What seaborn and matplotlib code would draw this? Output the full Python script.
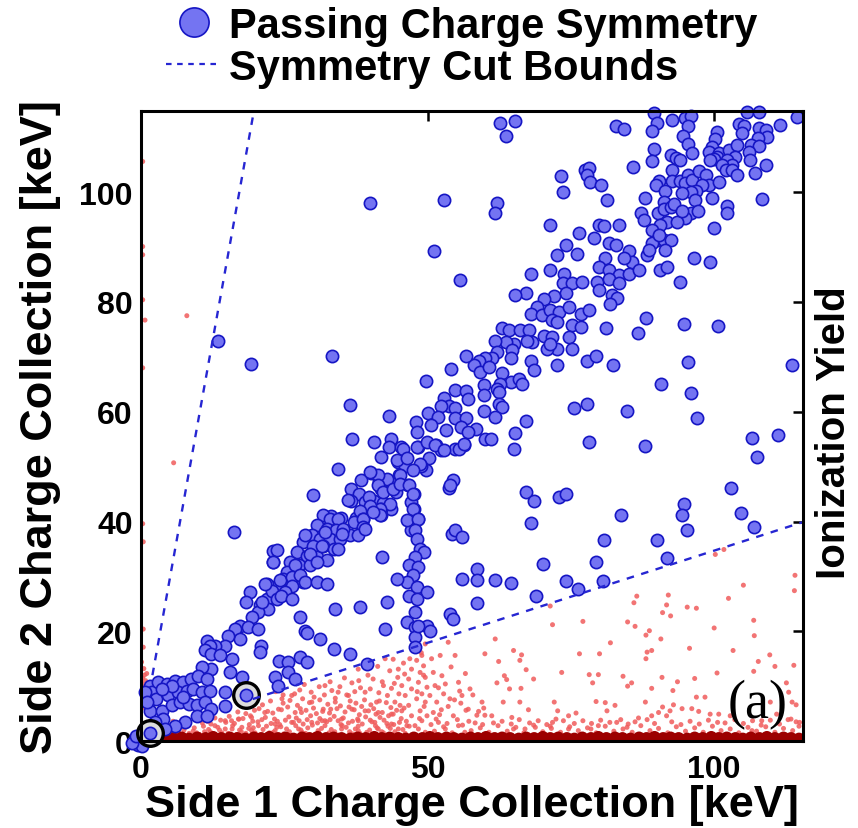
import matplotlib
matplotlib.use("Agg")
import matplotlib.pyplot as plt
import seaborn as sns
import pandas as pd
from matplotlib.lines import Line2D

# ---------------- data (keV) ----------------
# events passing the charge-symmetry cut (Side 1, Side 2)
passing_top = [
    (62.7,112.7),(65.2,112.9),(63.6,110.3),(82.9,112.0),(84.2,111.5),(89.5,114.4),(90.1,112.7),(89.2,111.1),
    (92.6,113.1),(95.0,113.5),(96.0,113.8),(95.5,112.1),(94.6,110.3),(95.5,108.8),(96.2,107.1),(89.5,107.8),
    (89.1,105.6),(85.8,104.6),(92.4,106.8),(93.3,106.2),(94.1,105.8),(100.5,110.9),(100.1,109.7),(99.7,108.2),
    (99.1,107.4),(100.8,107.1),(100.5,106.5),(100.0,106.0),(99.2,105.8),(102.6,107.7),(104.0,108.6),(103.7,106.5),
    (102.3,105.8),(103.1,105.0),(101.3,105.0),(102.0,104.1),(103.1,104.1),(104.0,103.2),(105.8,114.6),(107.8,114.7),
    (104.3,112.5),(105.2,112.0),(104.8,110.8),(107.9,111.7),(109.0,111.4),(109.3,110.0),(107.7,109.9),(106.5,108.6),
    (107.9,108.5),(106.1,107.4),(106.2,105.8),(107.2,103.5),(109.0,105.0),(108.4,98.7),(111.4,112.2),(114.5,113.7),
    (40.0,98.1),(52.8,98.5),(51.1,89.3),(55.6,84.0),
]
passing_upper_band = [
    (92.7,104.1),(92.7,102.1),(90.3,102.1),(89.8,101.3),(91.5,100.3),(91.2,98.3),(90.2,96.2),(91.2,96.9),
    (92.4,97.3),(93.0,97.9),(91.8,94.6),(90.6,94.0),(89.2,93.1),(90.1,91.3),(91.2,91.3),(92.4,91.3),
    (91.5,89.5),(89.2,90.8),(90.3,92.2),(94.1,102.1),(95.5,103.2),(95.0,101.6),(96.2,102.2),(97.3,103.8),
    (98.5,103.2),(99.1,101.3),(97.9,101.3),(96.9,100.3),(95.9,100.1),(94.4,99.8),(96.6,98.5),(99.7,98.9),
    (100.9,101.9),(95.9,96.3),(97.2,96.5),(95.0,95.3),(93.5,94.6),(94.4,96.5),(88.0,98.9),(87.2,96.2),
    (87.7,94.9),(88.3,88.6),(88.6,89.5),(90.6,85.8),(91.8,86.3),(94.1,83.7),(96.5,88.1),(99.2,87.2),
    (99.9,93.4),(102.3,97.4),(102.3,96.2),(62.1,98.1),(61.8,96.3),(73.2,103.0),(73.6,100.1),(77.5,104.1),
    (78.2,104.4),(77.8,103.2),(78.4,101.8),(80.3,101.3),(81.3,98.6),(71.4,94.0),(76.4,92.6),(79.9,94.0),
    (80.8,93.9),(83.4,94.0),(79.0,91.6),(81.7,90.7),(82.8,90.4),(85.1,89.2),(85.7,87.3),(84.2,88.1),
    (81.0,88.1),(79.9,86.3),(81.6,85.8),(83.4,84.9),(85.1,85.1),(86.9,85.8),(79.6,83.7),(81.6,84.1),
    (83.4,83.4),(79.9,82.2),(82.2,81.3),(83.1,80.8),(81.9,79.7),(74.1,90.4),(72.6,88.6),(76.1,88.7),
    (71.4,85.8),(68.0,85.1),(73.8,85.1),(73.6,83.4),(75.2,83.4),(77.0,83.7),(74.1,81.6),(72.0,81.0),
    (70.3,80.6),(67.1,81.7),(65.3,81.3),(69.1,79.1),(68.1,77.9),(69.9,77.6),(71.4,78.5),(72.9,78.2),
    (74.6,79.0),(76.7,77.9),(78.1,78.6),(71.7,76.7),
]
passing_mid = [
    (63.0,75.3),(64.2,74.9),(66.2,74.9),(67.7,74.9),(70.3,73.8),(71.7,73.7),(72.6,76.4),(75.2,75.8),
    (76.7,75.5),(74.6,73.7),(75.2,71.4),(72.6,71.5),(70.9,71.5),(71.3,72.4),(68.2,72.7),(67.4,72.9),
    (65.0,72.3),(63.6,72.7),(61.8,72.9),(62.1,70.9),(64.7,71.2),(64.5,69.8),(61.3,69.8),(60.1,69.8),
    (58.9,69.2),(58.1,68.6),(59.2,67.3),(60.7,68.2),(62.9,67.0),(64.5,65.4),(65.9,65.9),(66.4,65.1),
    (62.7,65.1),(59.8,64.8),(59.8,63.0),(62.1,64.2),(62.4,63.6),(62.4,61.5),(63.0,60.9),(59.8,60.1),
    (61.8,59.1),(58.4,56.9),(60.1,55.1),(61.1,55.1),(65.3,56.2),(65.0,53.2),(67.1,58.4),(68.1,69.2),
    (68.5,67.6),(72.6,68.6),(77.8,69.2),(79.3,70.2),(81.2,75.3),(82.3,68.5),(86.7,74.3),(88.1,77.0),
    (94.7,75.9),(100.7,75.7),(95.5,69.0),(113.5,68.6),(90.8,65.0),(95.9,63.5),(75.5,60.7),(77.8,61.5),
    (84.8,60.1),(97.0,58.9),(78.2,54.4),(88.0,53.7),(106.6,55.2),(111.2,55.8),(107.5,51.8),(102.9,46.1),
    (67.1,45.4),(68.5,43.8),(73.0,44.5),(74.2,45.1),(68.1,39.8),(83.7,41.1),(94.7,43.2),(94.4,41.1),
    (104.6,41.5),(95.3,38.4),(106.9,39.0),
]
passing_low_right = [
    (58.6,31.4),(58.7,29.4),(58.6,25.2),(61.8,29.3),(64.5,28.8),(70.2,32.3),(69.0,26.5),(74.2,29.1),
    (76.2,27.7),(79.4,32.7),(80.7,36.7),(80.6,29.1),(90.1,36.7),(91.7,33.3),
]
passing_center = [
    (13.4,72.9),(19.2,68.7),(33.3,70.1),(36.4,61.3),(43.2,59.2),(36.8,55.1),(34.4,49.6),(30.1,44.8),
    (49.7,65.6),(54.1,67.7),(56.7,70.2),(16.3,38.0),(52.9,62.5),(54.7,63.9),(56.7,63.7),(53.8,61.1),
    (54.7,60.7),(57.0,62.4),(52.4,61.1),(50.0,59.8),(51.8,59.1),(53.2,56.6),(50.6,57.5),(48.0,58.1),
    (48.1,56.3),(54.7,58.8),(56.7,58.8),(55.8,57.2),(57.0,56.3),(51.5,54.0),(52.4,53.0),(50.3,51.6),
    (48.3,53.6),(49.7,49.3),(48.9,50.2),(54.7,53.3),(56.3,54.0),(54.4,47.5),(53.8,46.1),(40.7,54.4),
    (43.6,55.0),(43.3,53.6),(45.4,53.6),(41.9,51.8),(44.8,50.8),(46.0,50.2),(45.1,48.4),(40.1,48.9),
    (38.4,47.5),(41.6,47.3),(43.0,47.3),(44.2,46.9),(46.5,46.7),(47.7,45.1),(44.5,45.4),(41.9,46.0),
    (36.6,45.9),(38.1,45.1),(36.6,43.7),(39.0,43.5),(40.7,43.8),(42.2,43.4),(43.6,42.3),(41.9,42.2),
    (40.4,42.0),(47.1,43.5),(47.7,42.2),(48.3,40.4),(47.1,38.4),(33.2,41.0),(34.9,40.6),(31.7,38.6),
    (37.5,40.6),(38.9,38.8),(35.5,38.1),(30.3,37.8),(41.9,41.1),
]
passing_column = [
    (45.8,53.3),(48.1,53.6),(49.9,54.5),(51.3,53.9),(52.8,53.0),(55.4,53.3),(56.3,54.2),(44.6,51.2),
    (46.4,51.5),(48.7,50.5),(47.5,49.3),(45.2,48.4),(42.9,47.8),(41.4,48.4),(40.0,49.0),(36.2,43.9),
    (39.7,44.5),(41.4,46.6),(42.3,45.4),(44.0,46.0),(45.2,46.9),(46.7,46.6),(47.5,45.1),(47.5,42.3),
    (43.5,43.2),(41.7,42.3),(40.0,42.9),(38.2,42.0),(38.8,40.5),(41.7,41.1),(46.4,40.2),(48.4,40.5),
    (47.8,38.4),(48.1,36.9),(48.7,35.0),(49.3,34.4),(47.8,33.5),(46.7,32.0),(48.4,31.7),(47.5,30.2),
    (46.4,29.0),(48.1,28.0),(49.9,27.1),(46.7,26.5),(48.1,25.9),(47.8,23.5),(46.4,21.7),(47.8,20.7),
    (49.9,21.0),(50.4,20.1),(47.8,18.9),(47.8,17.1),(54.0,46.6),(54.2,37.8),(54.8,38.4),(56.0,37.2),
    (56.0,29.6),(54.0,23.2),(54.5,22.3),(42.0,33.5),(44.6,29.6),(42.9,25.3),(42.6,20.4),(38.2,24.4),
    (33.9,24.1),(36.5,15.9),(39.4,14.0),(28.6,20.0),(31.2,18.6),(27.7,22.6),(33.6,16.8),(48.3,21.0),
    (29.0,19.7),(24.0,14.6),(25.7,14.4),(27.7,15.3),(29.0,14.4),(25.7,12.6),(26.9,11.3),(23.4,11.7),
    (23.9,10.0),(21.0,17.3),(20.8,16.2),(17.6,11.7),(14.7,8.9),(14.7,6.4),
]
passing_low_band = [
    (31.8,41.1),(33.0,40.5),(34.4,40.5),(30.7,39.3),(32.4,38.7),(34.1,38.4),(29.8,37.5),(31.2,36.9),
    (33.0,36.9),(34.7,36.9),(36.5,37.5),(28.3,36.3),(30.1,35.6),(31.8,35.6),(33.6,35.0),(27.2,34.4),
    (28.9,33.8),(30.7,33.5),(32.4,32.9),(26.0,32.6),(27.5,32.0),(29.5,32.0),(25.4,30.8),(27.2,30.5),
    (24.8,29.6),(26.6,29.3),(28.3,29.0),(23.7,28.3),(22.0,28.6),(25.4,27.1),(23.7,26.5),(22.0,25.9),
    (20.8,24.7),(19.0,27.1),(18.4,25.3),(23.1,34.7),(23.1,32.6),(35.3,38.7),(37.1,39.9),(38.8,40.5),
    (38.8,39.0),(40.5,41.7),(28.6,37.5),(32.1,38.1),(35.0,37.8),(37.9,37.5),(39.1,38.7),(31.5,35.6),
    (29.5,34.1),(34.4,35.0),(30.7,32.6),(26.9,32.0),(24.3,29.3),(26.3,29.9),(27.7,30.2),(28.6,29.0),
    (30.7,29.0),(32.4,28.7),(26.3,28.3),(25.1,27.1),(22.8,27.4),(21.6,28.7),(23.7,25.9),(24.5,26.5),
    (26.3,25.9),(22.2,24.1),(20.5,23.5),(19.3,22.6),(21.1,25.3),(17.3,21.0),(16.4,20.4),(18.7,20.7),
    (20.5,20.4),(17.3,18.6),(15.2,19.2),(14.7,17.4),(12.9,17.4),(11.5,18.3),(12.0,17.4),(11.2,16.5),
    (12.3,15.9),(13.8,15.6),(15.8,15.0),(15.5,12.5),(12.3,13.1),(10.6,13.4),(23.7,34.9),(23.1,32.6),
]
passing_origin = [
    (1.6,10.1),(1.9,8.9),(3.0,10.7),(4.5,10.4),(5.9,11.0),(7.4,10.7),(8.8,11.3),(10.0,11.9),
    (11.5,11.3),(2.7,7.7),(4.8,8.3),(6.5,8.9),(8.0,9.2),(9.1,9.5),(10.6,8.9),(12.0,9.2),
    (1.6,5.5),(3.6,5.5),(5.4,6.5),(6.8,7.1),(8.3,6.8),(9.7,6.5),(11.2,7.1),(12.3,5.9),
    (9.7,4.6),(7.7,3.4),(5.9,2.8),(3.9,4.0),(2.4,3.4),(2.2,1.9),(4.2,2.2),(11.5,4.6),
    (7.4,8.0),(0.7,8.9),(1.0,7.1),(5.4,10.1),(3.6,9.5),
    (0.0,0.0),(0.4,0.3),(0.1,0.8),(0.9,0.1),(0.6,0.9),
    (-1.0,0.2),(-0.6,-0.8),(0.2,-0.9),(-1.5,-0.3),(-0.9,0.9),
]
# the two highlighted (circled) events
circled_x = [1.6, 18.3]
circled_y = [1.5, 8.3]

# events failing the symmetry cut
failing_right = [
    (100.2,34.0),(101.7,34.9),(114.1,30.2),(114.0,27.4),(105.1,28.4),(102.5,26.0),(86.5,26.4),(86.0,25.2),
    (92.0,26.6),(91.7,24.8),(91.0,23.4),(92.4,22.8),(95.3,24.4),(96.9,24.2),(71.4,24.6),(71.8,21.2),
    (77.1,21.8),(84.9,21.7),(86.2,20.9),(88.7,20.1),(88.1,19.3),(90.7,18.6),(100.0,20.6),(106.9,22.0),
    (107.0,19.2),(61.8,18.6),(81.9,17.9),(76.5,15.9),(80.0,15.9),(60.0,15.9),(65.0,16.5),(66.4,15.7),
    (66.1,14.7),(62.4,14.5),(67.2,13.0),(68.5,11.3),(63.4,11.9),(63.8,11.2),(62.1,10.6),(64.3,9.5),
    (66.3,9.6),(73.4,12.5),(78.2,12.1),(79.8,12.1),(78.8,10.6),(84.1,11.8),(85.6,10.6),(84.9,10.0),
    (89.1,9.6),(88.3,16.2),(89.1,16.5),(88.1,15.0),(90.9,11.6),(93.6,10.8),(92.8,9.2),(95.7,16.9),
    (96.6,11.4),(100.5,12.4),(103.3,16.5),(106.9,12.7),(107.7,14.5),(109.7,15.7),(110.6,13.6),(113.9,13.8),
    (112.6,10.6),(113.0,8.9),(113.6,7.1),(114.3,6.6),(114.9,3.4),(113.4,4.0),(110.9,4.9),(109.8,7.1),
    (108.3,3.7),(106.6,1.9),(102.8,4.6),(100.8,4.9),(99.3,4.9),(100.6,3.4),(98.4,8.0),(96.9,8.0),
    (97.3,5.4),(96.1,5.9),(94.4,5.9),(92.9,6.6),(92.3,5.5),(91.7,4.6),(91.0,6.2),(90.3,5.2),
    (89.1,4.6),(88.3,3.9),(88.0,7.1),(86.2,3.5),(84.8,2.5),(82.7,6.5),(81.0,7.0),(79.4,7.2),
    (81.3,5.5),(83.0,3.4),(81.8,3.4),(79.8,2.8),(78.5,2.2),(75.9,5.1),(74.6,4.6),(73.7,3.7),
    (72.7,5.5),(72.1,7.1),(71.8,3.4),(74.6,2.2),(71.4,2.7),(67.6,5.7),(66.1,7.1),(64.7,4.3),
    (63.2,7.1),(60.0,4.7),(61.2,4.6),(58.6,4.7),(59.5,7.1),(57.4,9.5),(67.0,2.2),(68.8,2.5),(65.0,2.2),
]
failing_column = [
    (53.6,18.0),(49.6,17.7),(48.4,16.5),(49.0,15.6),(48.1,14.7),(49.3,13.7),(48.7,12.5),(49.6,11.6),
    (48.4,10.7),(49.9,9.8),(49.0,8.6),(48.1,7.7),(49.6,7.1),(48.7,5.5),(49.9,4.6),(49.0,3.7),
    (47.8,2.8),(48.4,2.2),(49.6,1.6),(46.9,15.0),(47.2,13.1),(46.7,11.3),(47.2,9.5),(46.1,8.3),
    (50.7,15.0),(51.0,12.5),(51.3,10.1),(50.4,8.3),(51.6,7.1),(46.7,6.5),(51.0,5.2),(47.2,4.6),
    (51.9,3.4),(46.4,2.8),(52.5,11.9),(53.1,10.4),(45.5,10.1),(52.2,15.6),(44.9,13.1),(53.9,7.7),
    (48.9,16.1),(49.3,12.0),(48.2,9.0),(49.4,6.3),(48.6,4.1),
]
failing_left = [
    (42.6,15.0),(37.9,13.1),(42.3,10.1),(43.7,9.6),(39.1,8.9),(36.2,8.3),(41.1,7.1),(44.3,7.1),
    (32.1,10.1),(34.4,8.9),(33.9,7.1),(29.8,7.1),(31.8,5.8),(36.8,5.8),(39.1,5.5),(41.4,5.2),
    (43.7,4.9),(45.5,5.5),(26.3,8.3),(24.6,7.7),(28.0,5.2),(24.0,5.8),(21.6,5.2),(19.3,4.3),
    (17.0,4.0),(14.7,3.7),(12.9,2.8),(35.0,4.0),(37.9,3.7),(40.8,3.4),(32.1,3.7),(29.8,3.4),
    (26.3,3.4),(23.4,3.1),(20.5,2.8),(17.6,2.5),(14.7,2.2),(35.0,2.2),(37.9,1.9),(41.4,2.2),
    (43.7,3.1),(44.9,2.2),(27.5,2.2),(30.9,1.9),(23.4,1.9),(19.3,1.9),(55.4,10.7),(56.0,8.3),
    (57.1,5.8),(54.5,4.6),(55.4,2.8),(53.1,2.2),(56.5,1.6),(54.8,15.6),
]
failing_dense = [
    (4.3,1.3),(6.1,1.1),(8.4,1.4),(10.2,1.2),(12.6,1.0),(14.1,1.5),(16.7,1.2),(18.3,1.4),(20.8,1.1),
    (22.4,1.5),(24.9,1.3),(26.2,1.0),(28.7,1.4),(30.3,1.2),(32.8,1.5),(34.4,1.1),(36.9,1.3),(38.2,1.4),
    (40.6,1.0),(42.3,1.5),(44.8,1.2),(46.1,1.4),(5.2,2.3),(7.5,2.0),(9.3,2.4),(11.8,2.1),(13.4,2.5),
    (15.9,2.2),(17.2,2.0),(19.6,2.4),(21.3,2.1),(23.7,2.5),(25.4,2.2),(27.9,2.0),(29.1,2.4),(31.5,2.3),
    (33.2,2.1),(35.8,2.5),(37.4,2.2),(39.9,2.0),(41.2,2.4),(43.5,2.3),(45.7,2.1),(8.1,3.0),(10.7,3.3),
    (12.2,3.1),(14.8,3.4),(16.3,3.2),(18.9,3.0),(20.4,3.5),(22.7,3.2),(24.2,3.0),(26.6,3.4),(28.3,3.1),
    (30.8,3.3),(32.4,3.5),(34.9,3.0),(36.2,3.3),(38.6,3.1),(40.3,3.5),(42.9,3.2),(44.1,3.0),(12.9,4.2),
    (15.4,4.5),(17.8,4.1),(19.1,4.6),(21.7,4.3),(23.3,4.0),(25.8,4.4),(27.1,4.2),(29.6,4.6),(31.2,4.1),
    (33.7,4.5),(35.3,4.2),(37.8,4.0),(39.2,4.4),(41.7,4.3),(43.2,4.6),(45.4,4.1),(16.9,5.3),(19.8,5.6),
    (22.1,5.4),(24.5,5.7),(26.9,5.2),(28.8,5.6),(31.7,5.4),(33.1,5.8),(35.6,5.3),(37.2,5.7),(39.7,5.5),
    (42.1,5.2),(44.6,5.6),(21.2,6.6),(24.8,6.9),(27.3,6.5),(29.4,7.0),(32.6,6.7),(34.8,6.4),(37.5,6.9),
    (40.1,6.6),(42.8,7.0),(45.2,6.5),(26.8,8.6),(30.2,8.0),(33.3,9.2),(35.9,8.4),(38.3,9.7),(41.5,8.8),
    (44.2,10.5),(40.5,11.3),(36.8,10.6),(31.1,9.9),(28.5,10.3),(23.5,9.0),(43.4,12.8),(39.6,12.0),
    (45.8,14.2),(2.5,2.6),(3.3,1.9),(3.8,3.2),(4.9,2.8),(5.6,3.6),(6.8,2.6),(7.2,3.9),(9.8,3.8),
    (11.3,4.0),(2.1,1.2),(3.0,0.8),(5.5,0.9),(7.9,0.8),(9.1,1.8),(11.1,1.7),(1.5,3.5),
]
failing_dense_more = [
    (3.6,1.5),(5.0,1.8),(6.6,1.6),(7.9,2.6),(9.7,1.5),(10.9,2.7),(12.1,1.7),(13.7,2.0),(15.2,1.4),
    (16.0,2.8),(17.5,1.7),(18.8,2.3),(19.9,1.5),(21.9,2.7),(23.1,1.6),(24.4,2.6),(25.9,1.7),(27.0,2.8),
    (28.1,1.6),(29.9,2.9),(31.0,1.6),(32.1,2.8),(33.8,1.7),(35.1,2.8),(36.4,1.7),(37.9,2.7),(39.4,1.6),
    (40.9,2.8),(42.0,1.7),(43.1,2.7),(44.3,1.7),(45.1,3.4),(46.8,2.7),(11.6,3.6),(13.9,3.8),(15.8,3.7),
    (17.1,4.0),(19.5,3.6),(21.1,3.9),(23.8,3.6),(25.2,3.8),(27.6,3.7),(29.0,3.9),(31.6,3.7),(33.0,3.9),
    (34.4,3.7),(36.9,3.6),(38.1,4.8),(40.0,3.8),(41.0,4.9),(42.4,3.8),(44.0,4.9),(46.3,3.6),(18.3,5.0),
    (20.6,5.9),(23.0,5.1),(25.6,6.2),(27.8,5.9),(30.1,6.0),(30.6,5.0),(32.9,5.1),(34.2,5.9),(36.3,6.2),
    (38.5,6.3),(40.6,5.9),(41.6,7.3),(43.6,6.1),(45.9,6.0),(22.6,7.3),(26.0,7.4),(28.2,7.7),(31.2,7.5),
    (33.9,7.8),(36.5,7.3),(39.0,7.5),(43.0,8.3),(45.0,8.6),(24.8,8.4),(27.7,9.3),(29.7,8.9),(32.0,8.4),
    (34.7,9.9),(37.3,9.0),(40.0,9.5),(42.1,10.8),(44.8,11.6),(38.0,11.0),(35.5,11.5),(33.0,10.8),
    (41.3,13.6),(44.0,14.9),(46.0,12.2),(50.6,3.0),(51.5,4.0),(52.4,5.7),(53.4,3.2),(55.8,6.9),
    (57.2,3.6),(58.9,5.4),(59.6,3.0),(52.8,8.6),(55.6,9.1),(51.9,9.7),(56.6,12.3),(54.1,13.5),
    (61.5,3.3),(63.0,3.6),(64.6,3.1),(66.0,3.9),(67.8,3.3),(69.3,3.7),(70.8,3.0),(72.4,4.0),(75.6,3.2),
    (77.1,3.7),(78.6,3.2),(80.2,3.8),(83.7,3.9),(85.0,3.1),(86.8,4.2),(89.6,3.2),(92.6,3.5),(94.2,3.0),
    (95.8,3.6),(97.4,3.1),(99.0,3.8),(101.9,3.3),(103.6,3.9),(105.1,3.2),(106.7,3.7),(108.2,2.9),
    (109.8,3.8),(111.4,3.1),(112.9,3.9),(114.3,3.5),
]
failing_fringe = [
    (51.2,1.8),(52.8,2.6),(54.3,1.5),(56.1,2.9),(57.6,1.9),(59.2,2.4),(60.7,1.6),(62.3,2.8),(63.9,1.8),
    (65.4,2.5),(66.8,1.5),(68.5,2.9),(70.1,1.7),(71.6,2.3),(73.2,1.6),(74.8,2.6),(76.3,1.9),(77.9,2.4),
    (79.4,1.5),(81.0,2.7),(82.5,1.8),(84.1,2.2),(85.7,1.6),(87.2,2.8),(88.8,1.9),(90.3,2.3),(91.9,1.5),
    (93.4,2.6),(95.0,1.8),(96.6,2.4),(98.1,1.6),(99.7,2.7),(101.2,1.9),(102.8,2.2),(104.3,1.5),(105.9,2.5),
    (107.4,1.8),(109.0,2.6),(110.6,1.6),(112.1,2.3),(113.7,1.9),(114.8,2.7),(52.1,4.8),(53.6,6.3),
    (55.2,3.9),(56.7,5.6),(58.3,3.3),(59.8,6.0),(54.7,7.5),(57.9,8.4),
]
failing_axis = [
    (0.3,105.6),(0.3,90.1),(0.3,88.6),(0.3,80.4),(8.0,77.5),(0.7,76.7),(0.3,68.0),(5.7,50.7),
    (0.3,39.6),(0.4,36.3),(0.4,20.4),(0.4,17.1),(0.1,14.4),(0.3,11.5),(0.6,12.0),(0.2,10.5),
    (0.8,11.0),(0.4,9.8),(1.0,12.3),(0.5,13.2),(0.2,6.0),(0.3,3.0),
]
# saturated band of failing events at Side 2 ~ 0
band_x = [1.5, 2.9, 4.2, 5.6, 7.1, 8.4, 9.8, 11.3, 12.6, 14.0, 15.5, 16.8, 18.2, 19.7, 21.0, 22.4, 23.9,
          25.2, 26.6, 28.1, 29.4, 30.8, 32.3, 33.6, 35.0, 36.5, 37.8, 39.2, 40.7, 42.0, 43.4, 44.9, 46.2,
          47.6, 49.1, 50.4, 51.8, 53.3, 54.6, 56.0, 57.5, 58.8, 60.2, 61.7, 63.0, 64.4, 65.9, 67.2, 68.6,
          70.1, 71.4, 72.8, 74.3, 75.6, 77.0, 78.5, 79.8, 81.2, 82.7, 84.0, 85.4, 86.9, 88.2, 89.6, 91.1,
          92.4, 93.8, 95.3, 96.6, 98.0, 99.5, 100.8, 102.2, 103.7, 105.0, 106.4, 107.9, 109.2, 110.6,
          112.1, 113.4, 114.8]
band_y = [0.6, 0.5, 0.7, 0.5, 0.6, 0.4, 0.6, 0.5, 0.7, 0.5, 0.6, 0.5, 0.4, 0.6, 0.5, 0.7, 0.5,
          0.6, 0.4, 0.6, 0.5, 0.7, 0.5, 0.6, 0.5, 0.4, 0.6, 0.5, 0.7, 0.5, 0.6, 0.5, 0.4,
          0.6, 0.5, 0.7, 0.5, 0.6, 0.5, 0.4, 0.6, 0.5, 0.7, 0.5, 0.6, 0.5, 0.4, 0.6, 0.5,
          0.7, 0.5, 0.6, 0.5, 0.4, 0.6, 0.5, 0.7, 0.5, 0.6, 0.5, 0.4, 0.6, 0.5, 0.7, 0.5,
          0.6, 0.5, 0.4, 0.6, 0.5, 0.7, 0.5, 0.6, 0.5, 0.4, 0.6, 0.5, 0.7, 0.5,
          0.6, 0.5, 0.4]

# symmetry cut bounds
upper_bound_x = [2.0, 19.7]
upper_bound_y = [12.0, 114.8]
lower_bound_x = [19.5, 115.5]
lower_bound_y = [7.65, 39.9]

x_ticks = [0, 50, 100]
y_ticks = [0, 20, 40, 60, 80, 100]

# ---------------- style ----------------
sns.set_theme(style="white")
plt.rcParams["font.family"] = ["Liberation Sans", "DejaVu Sans"]
plt.rcParams["font.weight"] = "bold"
plt.rcParams["axes.labelweight"] = "bold"
plt.rcParams["text.color"] = "black"
plt.rcParams["axes.labelcolor"] = "black"
plt.rcParams["xtick.color"] = "black"
plt.rcParams["ytick.color"] = "black"
plt.rcParams["legend.labelcolor"] = "black"

BLUE_FACE = "#7474f2"
BLUE_EDGE = "#1616c4"
RED_LIGHT = "#f05c5c"
RED_DARK = "#9c0000"
LINE_BLUE = "#2626d2"

fig = plt.figure(figsize=(8.58, 8.29), dpi=100)
ax = fig.add_axes([0.1643, 0.1049, 0.7716, 0.76])

passing = pd.DataFrame(passing_top + passing_upper_band + passing_mid + passing_low_right +
                       passing_center + passing_column + passing_low_band + passing_origin,
                       columns=["side1", "side2"])
failing = pd.DataFrame(failing_right + failing_column + failing_left + failing_dense +
                       failing_dense_more + failing_fringe + failing_axis,
                       columns=["side1", "side2"])
band = pd.DataFrame({"side1": band_x, "side2": band_y})
circled = pd.DataFrame({"side1": circled_x, "side2": circled_y})

sns.scatterplot(data=failing, x="side1", y="side2", s=13, color=RED_LIGHT, alpha=0.85,
                edgecolor="none", ax=ax, zorder=2, legend=False)
sns.scatterplot(data=band, x="side1", y="side2", s=80, color=RED_DARK,
                edgecolor="none", ax=ax, zorder=2.5, legend=False)
sns.scatterplot(data=passing, x="side1", y="side2", s=78, color=BLUE_FACE, edgecolor=BLUE_EDGE,
                linewidth=1.2, ax=ax, zorder=3, legend=False, clip_on=False)
sns.scatterplot(data=circled, x="side1", y="side2", s=340, color="#dcdcdc", edgecolor="black",
                linewidth=2.4, ax=ax, zorder=4, legend=False, clip_on=False)
sns.scatterplot(data=circled, x="side1", y="side2", s=78, color=BLUE_FACE, edgecolor=BLUE_EDGE,
                linewidth=1.2, ax=ax, zorder=5, legend=False, clip_on=False)

ax.plot(upper_bound_x, upper_bound_y, linestyle=(0, (3.2, 3.2)), color=LINE_BLUE, lw=1.7, zorder=6)
ax.plot(lower_bound_x, lower_bound_y, linestyle=(0, (3.2, 3.2)), color=LINE_BLUE, lw=1.7, zorder=6)

ax.set_xlim(0, 115.5)
ax.set_ylim(0, 114.8)
ax.set_xticks(x_ticks)
ax.set_yticks(y_ticks)
ax.set_xticklabels([str(t) for t in x_ticks])
ax.set_yticklabels([str(t) for t in y_ticks])
ax.tick_params(direction="in", length=7, width=1.8, top=True, right=True, labelsize=23,
               colors="black")
ax.tick_params(axis="x", pad=9)
ax.tick_params(axis="y", pad=6)
for sp in ax.spines.values():
    sp.set_linewidth(2.2)
    sp.set_color("black")
    sp.set_zorder(7)

ax.set_xlabel("Side 1 Charge Collection [keV]", fontsize=32.5, fontweight="bold", labelpad=0)
ax.set_ylabel("Side 2 Charge Collection [keV]", fontsize=32.5, fontweight="bold", labelpad=13)

fig.text(0.972, 0.478, "Ionization Yield", rotation=90, ha="center", va="center",
         fontsize=29, fontweight="bold")
ax.text(107.5, 6.8, "(a)", fontsize=39, fontweight="normal", ha="center", va="center",
        family=["Liberation Serif", "DejaVu Serif"], zorder=8)

handles = [
    Line2D([], [], marker="o", linestyle="none", markersize=21, markerfacecolor=BLUE_FACE,
           markeredgecolor=BLUE_EDGE, markeredgewidth=1.2, label="Passing Charge Symmetry"),
    Line2D([], [], color=LINE_BLUE, linestyle=(0, (2.5, 2.5)), lw=1.6, label="Symmetry Cut Bounds"),
]
fig.legend(handles=handles, loc="upper left", bbox_to_anchor=(0.194, 0.992), frameon=False,
           fontsize=30, handlelength=1.3, handletextpad=0.2, labelspacing=0.05,
           borderpad=0, borderaxespad=0)

fig.savefig("out.png", dpi=100)
